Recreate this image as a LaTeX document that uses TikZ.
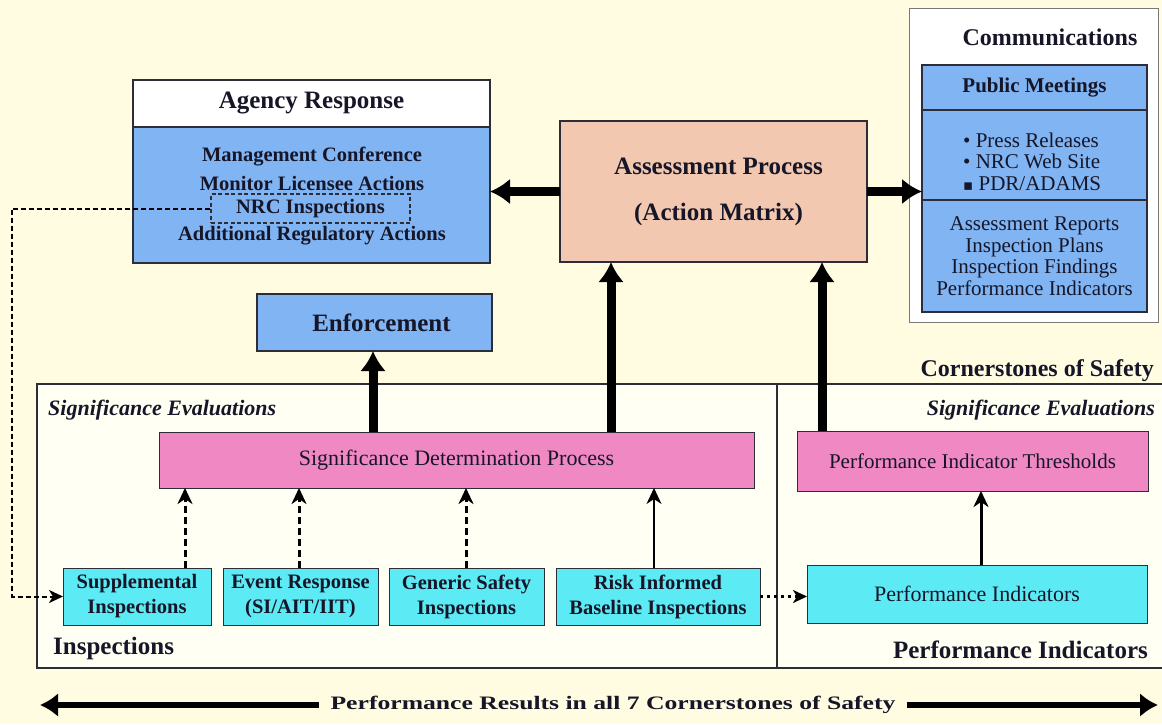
\documentclass[tikz,border=0pt]{standalone}
\usepackage{fontspec}
\usepackage{graphicx}
\setmainfont{Liberation Serif}
\newfontfamily\symfont{DejaVu Sans}
\usetikzlibrary{arrows.meta,calc}
\definecolor{bgc}{RGB}{255,252,226}
\definecolor{innerc}{RGB}{255,255,243}
\definecolor{bluec}{RGB}{128,180,242}
\definecolor{peachc}{RGB}{242,200,176}
\definecolor{pinkc}{RGB}{240,136,196}
\definecolor{cyanc}{RGB}{92,234,244}
\definecolor{inkc}{RGB}{22,22,40}
\definecolor{edgec}{RGB}{45,45,55}
\definecolor{grayedge}{RGB}{120,120,120}
\newcommand{\myfs}[2]{\fontsize{#1}{#2}\selectfont}
\begin{document}
\begin{tikzpicture}[x=1pt,y=-1pt,
  box/.style={draw=edgec, line width=1.5pt, anchor=north west, inner sep=0pt, outer sep=0pt, text=inkc, align=center},
  txt/.style={inner sep=0pt, text=inkc},
  bigarrow/.style={line width=9pt, -{Latex[length=20pt,width=26pt]}},
  dasharrow/.style={line width=3pt, dash pattern=on 7pt off 4pt, -{Stealth[length=16pt,width=15pt,inset=5pt]}},
  thinarrow/.style={line width=2pt, -{Stealth[length=16pt,width=15pt,inset=5pt]}},
  dashline/.style={line width=2pt, dash pattern=on 5pt off 3pt, -{Stealth[length=14pt,width=13pt,inset=4pt]}},
  dotline/.style={line width=2.5pt, dash pattern=on 3pt off 4pt, -{Stealth[length=14pt,width=13pt,inset=4pt]}},
  bottomarrow/.style={line width=6pt, -{Latex[length=18pt,width=24pt]}}
]
\useasboundingbox (0,0) rectangle (1162,724);
\fill[bgc] (0,0) rectangle (1162,724);

% Agency Response
\node[box, fill=white, minimum width=357pt, minimum height=47pt, font=\bfseries\myfs{25}{30}] (agh) at (133,80) {Agency Response};
\node[box, fill=bluec, minimum width=357pt, minimum height=136pt] (agb) at (133,127) {};
\node[txt, font=\bfseries\myfs{20.5}{24}] (ag1) at (312,157) {Management Conference};
\node[txt, font=\bfseries\myfs{20.5}{24}] (ag2) at (312,183) {Monitor Licensee Actions};
\node[draw=edgec, line width=1.5pt, dash pattern=on 4pt off 2.5pt, minimum width=199pt, minimum height=29pt, inner sep=0pt, text=inkc, font=\bfseries\myfs{20.5}{24}] (nrc) at (310.5,208.5) {NRC Inspections};
\node[txt, font=\bfseries\myfs{20.5}{24}] (ag4) at (312,236) {Additional Regulatory Actions};

% Enforcement
\node[box, fill=bluec, minimum width=235pt, minimum height=57pt, font=\bfseries\myfs{25}{30}] (enf) at (257,294) {\hspace*{14pt}Enforcement};

% Assessment
\node[box, fill=peachc, minimum width=307pt, minimum height=141pt, font=\bfseries\myfs{25}{46}] (ap) at (560,121) {\hspace*{10pt}Assessment Process\\\hspace*{10pt}(Action Matrix)};

% Communications
\node[box, draw=grayedge, line width=1pt, fill=white, minimum width=249pt, minimum height=314pt] (cm) at (909,8) {};
\node[txt, font=\bfseries\myfs{24}{28}] (cmt) at (1050,37) {Communications};
\node[box, fill=bluec, minimum width=225pt, minimum height=45pt, font=\bfseries\myfs{21}{25}] (pm) at (922,65) {Public Meetings};
\node[box, fill=bluec, minimum width=225pt, minimum height=90pt] (pr) at (922,110) {};
\node[txt, anchor=west, align=left, font=\myfs{21}{21.5}] (prt) at (963,161.5) {• Press Releases\\• NRC Web Site\\{\symfont\myfs{15}{21.5}▪} PDR/ADAMS};
\node[box, fill=bluec, minimum width=225pt, minimum height=112pt, font=\myfs{21}{21.5}] (rp) at (922,200) {Assessment Reports\\Inspection Plans\\Inspection Findings\\Performance Indicators};

% Cornerstones frame
\node[txt, anchor=east, font=\bfseries\myfs{24}{28}] (cos) at (1154,371) {Cornerstones of Safety};
\node[box, fill=innerc, line width=2pt, minimum width=1126pt, minimum height=284pt] (bb) at (37,384) {};
\draw[edgec, line width=1.5pt] (bb.north -| 777,0) -- (bb.south -| 777,0);

\node[txt, anchor=west, font=\bfseries\itshape\myfs{22}{26}] (se1) at (48,410) {Significance Evaluations};
\node[txt, anchor=east, font=\bfseries\itshape\myfs{22}{26}] (se2) at (1155,410) {Significance Evaluations};

\node[box, fill=pinkc, line width=1pt, minimum width=595pt, minimum height=56pt, font=\myfs{22}{26}] (sdp) at (159,432) {Significance Determination Process};
\node[box, fill=pinkc, line width=1pt, minimum width=351pt, minimum height=60pt, font=\myfs{21}{25}] (pit) at (797,431) {Performance Indicator Thresholds};

\node[box, fill=cyanc, line width=1pt, minimum width=148pt, minimum height=57pt, font=\bfseries\myfs{20.5}{25}] (sup) at (63,568) {Supplemental\\Inspections};
\node[box, fill=cyanc, line width=1pt, minimum width=155pt, minimum height=57pt, font=\bfseries\myfs{20.5}{25}] (evt) at (223,568) {Event Response\\(SI/AIT/IIT)};
\node[box, fill=cyanc, line width=1pt, minimum width=155pt, minimum height=57pt, font=\bfseries\myfs{20.5}{25}] (gen) at (389,568) {Generic Safety\\Inspections};
\node[box, fill=cyanc, line width=1pt, minimum width=204pt, minimum height=57pt, font=\bfseries\myfs{20.5}{25}] (rsk) at (556,568) {Risk Informed\\Baseline Inspections};
\node[box, fill=cyanc, line width=1pt, minimum width=340pt, minimum height=58pt, font=\myfs{22}{26}] (pi) at (807,565) {Performance Indicators};

\node[txt, anchor=west, font=\bfseries\myfs{25}{30}] (insp) at (53,648) {Inspections};
\node[txt, anchor=east, font=\bfseries\myfs{25}{30}] (pil) at (1148,650) {Performance Indicators};

% Thick arrows
\draw[bigarrow] (ap.west) -- (ap.west -| agb.east);
\draw[bigarrow] (ap.east) -- (ap.east -| pr.west);
\draw[bigarrow] (sdp.north -| 373,0) -- (enf.south -| 373,0);
\draw[bigarrow] (sdp.north -| 611,0) -- (ap.south -| 611,0);
\draw[bigarrow] (pit.north -| 822,0) -- (ap.south -| 822,0);

% Inspection arrows
\draw[dasharrow] (sup.north -| 185,0) -- (sdp.south -| 185,0);
\draw[dasharrow] (evt.north -| 299,0) -- (sdp.south -| 299,0);
\draw[dasharrow] (gen.north -| 466,0) -- (sdp.south -| 466,0);
\draw[thinarrow] (rsk.north -| 654,0) -- (sdp.south -| 654,0);
\draw[thinarrow, line width=3pt] (pi.north -| 981,0) -- (pit.south -| 981,0);

% Dashed feedback from NRC Inspections
\coordinate (c2) at (12,596.5);
\draw[dashline] (nrc.west) -| (c2) -- (sup.west);
\draw[dotline] (rsk.east) -- (rsk.east -| pi.west);

% Bottom arrow
\node[txt, inner xsep=11pt, font=\bfseries\myfs{19}{22}] (bt) at (613,705) {\scalebox{1.35}[1]{Performance Results in all 7 Cornerstones of Safety}};
\coordinate (la) at (40,705);
\coordinate (ra) at (1158,705);
\draw[bottomarrow] (bt.west) -- (la);
\draw[bottomarrow] (bt.east) -- (ra);
\end{tikzpicture}
\end{document}
